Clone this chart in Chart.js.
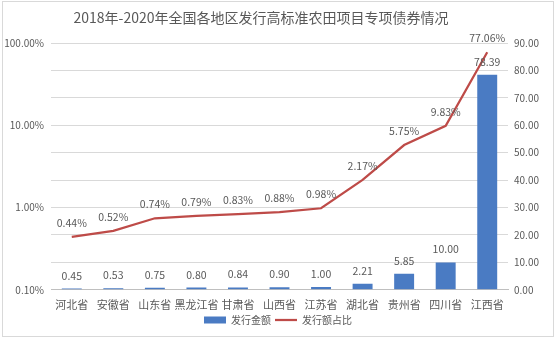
<!DOCTYPE html>
<html>
<head>
<meta charset="utf-8">
<script src="https://cdn.jsdelivr.net/npm/chart.js@4/dist/chart.umd.min.js"></script>
<style>
  html, body { margin: 0; padding: 0; background: #fff; }
  #wrap { position: relative; width: 556px; height: 339px; }
  #frame { position: absolute; left: 2px; top: 1px; width: 550px; height: 334px; border: 1px solid #d9d9d9; pointer-events: none; }
  canvas { display: block; }
</style>
</head>
<body>
<div id="wrap">
  <canvas id="chart" width="556" height="339"></canvas>
  <div id="frame"></div>
</div>
<script>
  var provinces = ['河北省', '安徽省', '山东省', '黑龙江省', '甘肃省', '山西省', '江苏省', '湖北省', '贵州省', '四川省', '江西省'];
  var amounts = [0.45, 0.53, 0.75, 0.80, 0.84, 0.90, 1.00, 2.21, 5.85, 10.00, 78.39];
  var shares = [0.44, 0.52, 0.74, 0.79, 0.83, 0.88, 0.98, 2.17, 5.75, 9.83, 77.06];
  var shareTicks = [0.1, 1, 10, 100];
  var titleText = '2018年-2020年全国各地区发行高标准农田项目专项债券情况';

  var FONT = '"Noto Sans CJK SC", "Noto Sans", sans-serif';
  var GRAY = '#595959';

  // title sits over the plot, a bit left of the canvas centre (like Excel)
  var chartTitle = {
    id: 'chartTitle',
    afterDraw: function (chart) {
      var ctx = chart.ctx;
      ctx.save();
      ctx.font = '14px ' + FONT;
      ctx.fillStyle = GRAY;
      ctx.textAlign = 'center';
      ctx.textBaseline = 'middle';
      ctx.fillText(titleText, 261, 18);
      ctx.restore();
    }
  };

  // value labels over bars and line points
  var valueLabels = {
    id: 'valueLabels',
    afterDatasetsDraw: function (chart) {
      var ctx = chart.ctx;
      ctx.save();
      ctx.font = '10.5px ' + FONT;
      ctx.fillStyle = GRAY;
      ctx.textAlign = 'center';
      ctx.textBaseline = 'middle';
      chart.getDatasetMeta(0).data.forEach(function (bar, i) {
        ctx.fillText(amounts[i].toFixed(2), bar.x, bar.y - 13);
      });
      chart.getDatasetMeta(1).data.forEach(function (pt, i) {
        ctx.fillText(shares[i].toFixed(2) + '%', pt.x, pt.y - 14);
      });
      ctx.restore();
    }
  };

  new Chart(document.getElementById('chart'), {
    data: {
      labels: provinces,
      datasets: [{
        type: 'bar',
        label: '发行金额',
        data: amounts,
        yAxisID: 'yR',
        backgroundColor: '#4a7bc3',
        borderWidth: 0,
        barPercentage: 0.48,
        categoryPercentage: 1,
        pointStyle: 'rect'
      }, {
        type: 'line',
        label: '发行额占比',
        data: shares,
        yAxisID: 'yL',
        borderColor: '#be4b48',
        backgroundColor: '#be4b48',
        borderWidth: 2.25,
        pointRadius: 0,
        tension: 0,
        pointStyle: 'line'
      }]
    },
    options: {
      responsive: false,
      animation: false,
      layout: { padding: { left: 0, right: 0, top: 43, bottom: 4 } },
      plugins: {
        title: { display: false },
        legend: {
          position: 'bottom',
          labels: {
            color: GRAY,
            font: { family: FONT, size: 10 },
            usePointStyle: true,
            pointStyleWidth: 22,
            boxWidth: 22,
            boxHeight: 7,
            padding: 4
          }
        },
        tooltip: { enabled: false }
      },
      scales: {
        x: {
          grid: { display: false },
          border: { color: '#bfbfbf' },
          ticks: { color: GRAY, font: { family: FONT, size: 11 }, padding: 0, maxRotation: 0, autoSkip: false }
        },
        yL: {
          type: 'logarithmic',
          position: 'left',
          min: 0.1,
          max: 100,
          grid: { display: false, drawTicks: false },
          border: { display: false },
          afterBuildTicks: function (scale) {
            scale.ticks = shareTicks.map(function (v) { return { value: v }; });
          },
          afterFit: function (scale) { scale.width = 51; },
          ticks: {
            color: GRAY,
            font: { family: FONT, size: 10 },
            padding: 7,
            callback: function (v) { return Number(v).toFixed(2) + '%'; }
          }
        },
        yR: {
          type: 'linear',
          position: 'right',
          min: 0,
          max: 90,
          grid: { color: '#d9d9d9', drawTicks: false },
          border: { display: false },
          afterFit: function (scale) { scale.width = 48; },
          ticks: {
            stepSize: 10,
            color: GRAY,
            font: { family: FONT, size: 10 },
            padding: 6,
            callback: function (v) { return Number(v).toFixed(2); }
          }
        }
      }
    },
    plugins: [valueLabels, chartTitle]
  });
</script>
</body>
</html>
